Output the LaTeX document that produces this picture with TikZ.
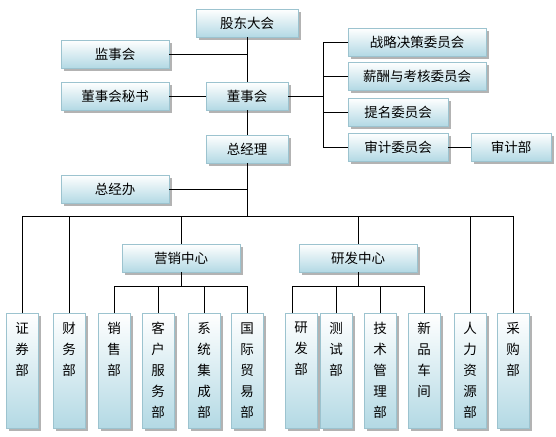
\documentclass[tikz,border=0pt]{standalone}
\usepackage{fontspec}
\setmainfont{Noto Sans CJK SC}
\usetikzlibrary{shadows, calc}

\definecolor{kuang}{HTML}{9CC3CF}
\definecolor{dilan}{HTML}{B3D9E4}
\newcommand{\shu}[1]{\parbox[t][97pt][t]{16pt}{\centering #1}}

\begin{document}
\begin{tikzpicture}[x=1pt, y=-1pt, line width=0.8pt,
  box/.style={draw=kuang, line width=0.6pt, top color=white, bottom color=dilan,
    drop shadow={shadow xshift=3pt, shadow yshift=-3pt, fill=black!50, opacity=.6},
    minimum height=28pt, inner sep=0pt, font=\fontsize{13.5}{15}\selectfont},
  tall/.style={box, inner xsep=0pt, inner ysep=9pt, minimum width=32pt,
    anchor=north, font=\fontsize{13.5}{21}\selectfont}]
  \useasboundingbox (0,0) rectangle (556,436);
  % top
  \node[box, minimum width=102pt] (gd)  at (247,23)  {股东大会};
  \node[box, minimum width=108pt] (jsh) at (115,54)  {监事会};
  \node[box, minimum width=108pt] (dms) at (115,96)  {董事会秘书};
  \node[box, minimum width=82pt]  (dsh) at (247,96)  {董事会};
  \node[box, minimum width=82pt]  (zjl) at (247,149) {总经理};
  \node[box, minimum width=108pt] (zjb) at (115,189) {总经办};
  % committees
  \node[box, minimum width=138pt] (zl)  at (417,42)  {战略决策委员会};
  \node[box, minimum width=138pt] (xc)  at (417,76)  {薪酬与考核委员会};
  \node[box, minimum width=100pt] (tm)  at (398,112) {提名委员会};
  \node[box, minimum width=100pt] (sj)  at (398,147) {审计委员会};
  \node[box, minimum width=80pt]  (sjb) at (511,147) {审计部};
  % centers
  \node[box, minimum width=118pt] (yx)  at (181,258) {营销中心};
  \node[box, minimum width=118pt] (yf)  at (358,258) {研发中心};
  % departments
  \node[tall] (zq)  at (22,313)  {\shu{证\\券\\部}};
  \node[tall] (cw)  at (69,313)  {\shu{财\\务\\部}};
  \node[tall] (xs)  at (114,313) {\shu{销\\售\\部}};
  \node[tall] (kf)  at (158,313) {\shu{客\\户\\服\\务\\部}};
  \node[tall] (xt)  at (204,313) {\shu{系\\统\\集\\成\\部}};
  \node[tall] (gj)  at (247,313) {\shu{国\\际\\贸\\易\\部}};
  \node[tall] (yfb) at (301,313) {\shu{研\\发\\部}};
  \node[tall] (cs)  at (336,313) {\shu{测\\试\\部}};
  \node[tall] (js)  at (380,313) {\shu{技\\术\\管\\理\\部}};
  \node[tall] (xp)  at (424,313) {\shu{新\\品\\车\\间}};
  \node[tall] (rl)  at (470,313) {\shu{人\\力\\资\\源\\部}};
  \node[tall] (cg)  at (513,313) {\shu{采\\购\\部}};

  \coordinate (br) at (323,96);
  \coordinate (bus) at (247,216);
  \coordinate (yxbar) at (181,286);
  \coordinate (yfbar) at (358,286);
  \coordinate (yfbtop) at ([xshift=-9pt]yfb.north);

  % spine
  \draw (gd) -- (dsh);
  \draw (dsh) -- (zjl);
  \draw (zjl) -- (zjl |- bus);
  \draw (jsh) -- (jsh -| gd);
  \draw (dms) -- (dsh);
  \draw (zjb) -- (zjb -| zjl);
  % committees
  \draw (dsh) -- (br);
  \draw (zl) -| (br |- sj) -- (sj);
  \draw (xc) -- (xc -| br);
  \draw (tm) -- (tm -| br);
  \draw (sj) -- (sjb);
  % lower levels
  \draw (zq.north |- bus) -- (cg.north |- bus);
  \foreach \n in {zq,cw,yx,yf,rl,cg} \draw (\n.north) -- (\n.north |- bus);
  \draw (yx) -- (yxbar);
  \draw (xs.north |- yxbar) -- (gj.north |- yxbar);
  \foreach \n in {xs,kf,xt,gj} \draw (\n.north) -- (\n.north |- yxbar);
  \draw (yf) -- (yfbar);
  \draw (yfbtop |- yfbar) -- (xp.north |- yfbar);
  \draw (yfbtop) -- (yfbtop |- yfbar);
  \foreach \n in {cs,js,xp} \draw (\n.north) -- (\n.north |- yfbar);
\end{tikzpicture}
\end{document}
